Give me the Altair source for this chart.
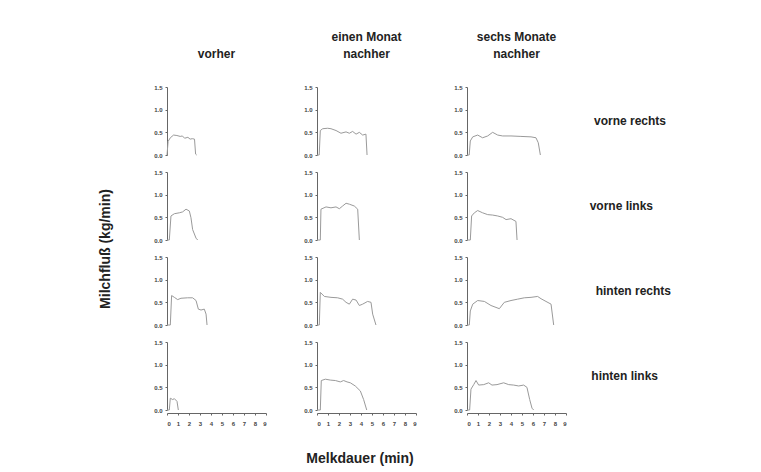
import altair as alt
import pandas as pd

quarters = ["vorne rechts", "vorne links", "hinten rechts", "hinten links"]
times = ["vorher", "einen Monat|nachher", "sechs Monate|nachher"]

# (quarter index, time index) -> minutes, flow (kg/min)
t_vr_0 = [0.0, 0.1, 0.3, 0.6, 0.9, 1.2, 1.4, 1.6, 1.9, 2.1, 2.3, 2.5, 2.6, 2.7]
v_vr_0 = [0.0, 0.30, 0.38, 0.44, 0.43, 0.41, 0.42, 0.37, 0.39, 0.35, 0.36, 0.35, 0.02, 0.0]
t_vr_1 = [0.0, 0.2, 0.3, 0.52, 0.97, 1.27, 1.73, 2.18, 2.64, 2.94, 3.24, 3.55, 3.85, 4.15, 4.45, 4.55]
v_vr_1 = [0.0, 0.0, 0.54, 0.58, 0.59, 0.58, 0.54, 0.48, 0.51, 0.48, 0.52, 0.46, 0.50, 0.44, 0.46, 0.0]
t_vr_2 = [0.0, 0.2, 0.3, 0.52, 0.97, 1.42, 1.88, 2.33, 2.79, 3.24, 4.0, 4.9, 5.82, 6.27, 6.48, 6.67]
v_vr_2 = [0.0, 0.0, 0.31, 0.40, 0.44, 0.38, 0.42, 0.50, 0.44, 0.42, 0.42, 0.41, 0.40, 0.38, 0.27, 0.0]

t_vl_0 = [0.0, 0.21, 0.36, 0.67, 1.12, 1.42, 1.73, 2.03, 2.18, 2.33, 2.64, 2.79]
v_vl_0 = [0.0, 0.0, 0.53, 0.58, 0.60, 0.62, 0.68, 0.64, 0.49, 0.23, 0.04, 0.0]
t_vl_1 = [0.0, 0.3, 0.36, 0.82, 1.27, 1.73, 2.03, 2.33, 2.64, 2.94, 3.39, 3.70, 3.85]
v_vl_1 = [0.0, 0.0, 0.68, 0.73, 0.71, 0.73, 0.69, 0.75, 0.81, 0.79, 0.75, 0.68, 0.0]
t_vl_2 = [0.0, 0.3, 0.42, 0.67, 0.97, 1.42, 1.88, 2.33, 2.79, 3.24, 3.55, 4.0, 4.45, 4.55]
v_vl_2 = [0.0, 0.0, 0.53, 0.60, 0.65, 0.60, 0.56, 0.55, 0.53, 0.50, 0.45, 0.47, 0.41, 0.0]

t_hr_0 = [0.0, 0.3, 0.42, 0.67, 0.97, 1.27, 1.88, 2.33, 2.64, 2.85, 3.09, 3.39, 3.55, 3.64]
v_hr_0 = [0.0, 0.0, 0.65, 0.61, 0.56, 0.59, 0.60, 0.60, 0.54, 0.35, 0.33, 0.35, 0.24, 0.0]
t_hr_1 = [0.0, 0.21, 0.3, 0.67, 1.27, 1.88, 2.33, 2.64, 2.94, 3.24, 3.55, 3.85, 4.15, 4.6, 4.91, 5.06, 5.36]
v_hr_1 = [0.0, 0.0, 0.72, 0.63, 0.61, 0.60, 0.57, 0.50, 0.46, 0.57, 0.55, 0.43, 0.46, 0.52, 0.50, 0.24, 0.0]
t_hr_2 = [0.0, 0.21, 0.3, 0.52, 0.97, 1.58, 2.18, 2.94, 3.39, 4.0, 4.6, 5.21, 5.82, 6.42, 6.73, 7.18, 7.64, 7.88]
v_hr_2 = [0.0, 0.0, 0.31, 0.46, 0.54, 0.52, 0.43, 0.36, 0.50, 0.54, 0.57, 0.60, 0.61, 0.63, 0.58, 0.52, 0.46, 0.0]

t_hl_0 = [0.0, 0.21, 0.3, 0.52, 0.67, 0.91, 1.03]
v_hl_0 = [0.0, 0.0, 0.26, 0.23, 0.25, 0.19, 0.0]
t_hl_1 = [0.0, 0.3, 0.39, 0.76, 1.21, 1.67, 2.12, 2.42, 2.73, 3.03, 3.48, 3.94, 4.24, 4.52]
v_hl_1 = [0.0, 0.0, 0.65, 0.68, 0.66, 0.65, 0.62, 0.65, 0.62, 0.60, 0.53, 0.42, 0.23, 0.0]
t_hl_2 = [0.0, 0.24, 0.36, 0.61, 0.82, 1.06, 1.52, 1.97, 2.27, 2.73, 3.33, 3.79, 4.24, 4.7, 5.15, 5.45, 5.7, 5.91, 6.06]
v_hl_2 = [0.0, 0.0, 0.46, 0.56, 0.65, 0.55, 0.56, 0.60, 0.55, 0.56, 0.60, 0.56, 0.55, 0.53, 0.55, 0.50, 0.23, 0.04, 0.0]

series = {
    (0, 0): (t_vr_0, v_vr_0), (0, 1): (t_vr_1, v_vr_1), (0, 2): (t_vr_2, v_vr_2),
    (1, 0): (t_vl_0, v_vl_0), (1, 1): (t_vl_1, v_vl_1), (1, 2): (t_vl_2, v_vl_2),
    (2, 0): (t_hr_0, v_hr_0), (2, 1): (t_hr_1, v_hr_1), (2, 2): (t_hr_2, v_hr_2),
    (3, 0): (t_hl_0, v_hl_0), (3, 1): (t_hl_1, v_hl_1), (3, 2): (t_hl_2, v_hl_2),
}

rows = []
for (qi, ti), (ts, vs) in series.items():
    for i, (t, v) in enumerate(zip(ts, vs)):
        rows.append({"Viertel": quarters[qi], "Zeit": times[ti], "t": t, "v": v, "i": i})
df = pd.DataFrame(rows)

FONT = "Liberation Sans"

base = alt.Chart(df).mark_line(color="#9a9a9a", strokeWidth=1).encode(
    x=alt.X("t:Q", scale=alt.Scale(domain=[0, 9], nice=False),
            axis=alt.Axis(values=list(range(10)), format="d", title=None, grid=False,
                          tickSize=2, labelFontSize=6, labelFontWeight="bold",
                          labelColor="#444", domainColor="#666", tickColor="#666",
                          labelPadding=5)),
    y=alt.Y("v:Q", scale=alt.Scale(domain=[0, 1.5], nice=False),
            axis=alt.Axis(values=[0, 0.5, 1.0, 1.5], format=".1f", title=None, grid=False,
                          tickSize=2, labelFontSize=6, labelFontWeight="bold",
                          labelColor="#444", domainColor="#666", tickColor="#666",
                          labelPadding=3)),
    order="i:O",
).properties(width=99, height=68)

chart = base.facet(
    row=alt.Row("Viertel:N", sort=quarters,
                header=alt.Header(title="Milchfluß (kg/min)", titleOrient="left",
                                  titleFont=FONT, titleFontSize=14, titleFontWeight="bold",
                                  titleColor="#222", titlePadding=30,
                                  labelOrient="right", labelAngle=0, labelAlign="center",
                                  labelFont=FONT, labelFontSize=12, labelFontWeight="bold",
                                  labelColor="#222", labelPadding=-8)),
    column=alt.Column("Zeit:N", sort=times,
                      header=alt.Header(title="Melkdauer (min)", titleOrient="bottom",
                                        titleFont=FONT, titleFontSize=14, titleFontWeight="bold",
                                        titleColor="#222", titlePadding=16,
                                        labelOrient="top", labelFont=FONT, labelFontSize=12,
                                        labelFontWeight="bold", labelColor="#222",
                                        labelExpr="split(datum.value, '|')",
                                        labelLineHeight=17,
                                        labelBaseline="middle", labelPadding=18)),
    spacing={"row": 11, "column": 37},
).resolve_axis(y="independent").configure_view(stroke=None).configure_axis(
    labelColor="#444"
).properties(
    padding={"left": 90, "top": 23, "right": 10, "bottom": 5},
    background="white",
)

chart.save("out.html", embed_options={"renderer": "svg", "actions": False})
